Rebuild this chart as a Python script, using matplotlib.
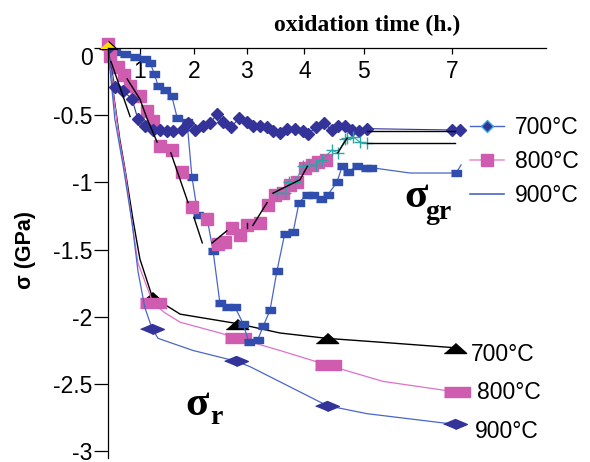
import numpy as np
import matplotlib
matplotlib.use("Agg")
import matplotlib.pyplot as plt
import matplotlib.transforms as mtransforms
from matplotlib.lines import Line2D

plt.rcParams['font.family'] = ['Liberation Sans', 'DejaVu Sans']
plt.rcParams['axes.unicode_minus'] = False

# x in chart units (tick labels below are the hours printed on the axis)
tick_pos = [0.65, 1.75, 2.83, 4.0, 5.21, 7.0]
tick_lab = ['1', '2', '3', '4', '5', '7']

# sigma_gr series
gr700_x = [0, 0.14, 0.31, 0.49, 0.61, 0.75, 0.92, 1.06, 1.20, 1.32, 1.51, 1.63, 1.77, 1.93, 2.08,
           2.22, 2.34, 2.51, 2.67, 2.83, 2.95, 3.10, 3.24, 3.36, 3.50, 3.65, 3.81, 3.97, 4.07,
           4.24, 4.40, 4.56, 4.68, 4.83, 4.97, 5.11, 5.28, 7.0, 7.17]
gr700_y = [0, -0.29, -0.32, -0.38, -0.53, -0.58, -0.61, -0.61, -0.62, -0.62, -0.61, -0.56, -0.61,
           -0.58, -0.56, -0.49, -0.55, -0.59, -0.52, -0.55, -0.58, -0.58, -0.59, -0.62, -0.63,
           -0.60, -0.60, -0.62, -0.64, -0.59, -0.56, -0.61, -0.58, -0.58, -0.61, -0.62, -0.60,
           -0.61, -0.61]

gr800_x = [0, 0.04, 0.20, 0.33, 0.45, 0.65, 0.79, 0.92, 1.06, 1.30, 1.51, 1.71, 2.02, 2.24,
           2.38, 2.53, 2.69, 2.83, 3.10, 3.26, 3.40, 3.56, 3.71, 3.85, 4.01, 4.15, 4.28, 4.44]
gr800_y = [0.03, -0.06, -0.14, -0.20, -0.28, -0.36, -0.47, -0.54, -0.73, -0.76, -0.92, -1.18,
           -1.27, -1.46, -1.44, -1.34, -1.39, -1.32, -1.30, -1.17, -1.09, -1.08, -1.02, -1.00,
           -0.89, -0.87, -0.85, -0.83]

gr900_x = [0, 0.14, 0.35, 0.55, 0.75, 0.86, 0.94, 1.02, 1.16, 1.30, 1.41, 1.61, 1.71, 1.83,
           2.02, 2.14, 2.28, 2.42, 2.59, 2.75, 2.87, 3.05, 3.16, 3.30, 3.44, 3.60, 3.77, 3.89,
           4.05, 4.18, 4.34, 4.48, 4.66, 4.77, 4.89, 5.07, 5.25, 5.36, 6.15, 7.09, 7.19]
gr900_y = [0, -0.03, -0.045, -0.07, -0.08, -0.11, -0.19, -0.28, -0.31, -0.36, -0.52, -0.55,
           -0.96, -1.24, -1.27, -1.51, -1.90, -1.93, -1.93, -2.05, -2.19, -2.17, -2.07, -1.95,
           -1.66, -1.38, -1.37, -1.15, -1.09, -1.09, -1.12, -1.09, -1.00, -0.88, -0.92, -0.88,
           -0.89, -0.89, -0.93, -0.93, -0.87]
gr900_marks = [i for i in range(1, 40) if i != 38]

teal_x = [3.44, 3.60, 3.69, 3.81, 3.97, 4.09, 4.24, 4.36, 4.56, 4.68, 4.83, 4.87, 4.99, 5.13, 5.28]
teal_y = [-1.08, -1.08, -1.00, -1.00, -0.88, -0.87, -0.87, -0.83, -0.76, -0.78, -0.68, -0.67,
          -0.66, -0.70, -0.71]

# black fit segments
segments = [
    ([0.06, 0.45], [-0.10, -0.51]),
    ([0.39, 0.65, 0.79, 1.00], [-0.23, -0.38, -0.52, -0.70]),
    ([1.28, 1.63], [-0.78, -1.15]),
    ([1.75, 1.92], [-1.26, -1.45]),
    ([2.12, 2.42], [-1.45, -1.36]),
    ([2.83, 2.83], [-1.30, -1.34]),
    ([2.95, 3.24], [-1.32, -1.15]),
    ([3.36, 3.91, 4.06], [-1.08, -0.98, -0.88]),
    ([4.68, 4.87], [-0.78, -0.67]),
    ([5.28, 7.07], [-0.62, -0.62]),
    ([5.28, 7.07], [-0.71, -0.71]),
]

# sigma_r series
r700_x = [0, 0.10, 0.24, 0.35, 0.51, 0.65, 0.90, 1.47, 2.63, 3.50, 4.46, 5.60, 7.07]
r700_y = [0, -0.31, -0.68, -0.91, -1.28, -1.57, -1.85, -1.98, -2.05, -2.12, -2.16, -2.19, -2.23]
r800_x = [0, 0.10, 0.24, 0.35, 0.49, 0.61, 0.92, 1.16, 1.47, 2.28, 2.65, 3.50, 4.48, 5.60, 7.11]
r800_y = [0, -0.32, -0.70, -0.92, -1.30, -1.60, -1.90, -1.97, -2.04, -2.12, -2.16, -2.25,
          -2.36, -2.48, -2.56]
r900_x = [0, 0.06, 0.14, 0.31, 0.49, 0.61, 0.75, 0.90, 1.02, 1.73, 2.61, 2.89, 4.46, 5.27, 7.07]
r900_y = [0, -0.23, -0.53, -0.88, -1.30, -1.66, -1.93, -2.09, -2.16, -2.25, -2.33, -2.37,
          -2.66, -2.72, -2.80]

labels = ['700°C', '800°C', '900°C']

blue_d = '#333399'
blue_s = '#2f4ead'
blue_l = '#4a66c8'
pink = '#d05cb0'
pink_l = '#e070c8'
teal = '#2aa5a5'

tri = [(-1, -0.45), (1, -0.45), (0, 0.45)]
rect = [(-1, -0.4), (1, -0.4), (1, 0.4), (-1, 0.4)]
diam = [(-1, 0), (0, 0.42), (1, 0), (0, -0.42)]
small_rect = [(-1, -0.7), (1, -0.7), (1, 0.7), (-1, 0.7)]

fig = plt.figure(figsize=(5.9, 4.62), dpi=100)
ax = fig.add_axes([108 / 590, 1 - 458 / 462, (546 - 108) / 590, (458 - 48) / 462])

# sigma_r
ax.plot(r700_x, r700_y, color='black', lw=1.0, marker=tri, ms=16, markevery=[6, 8, 10, 12],
        mfc='black', mec='black')
ax.plot(r800_x, r800_y, color=pink_l, lw=0.9, marker=rect, ms=19, markevery=[6, 10, 12, 14],
        mfc=pink, mec=pink)
ax.plot(r900_x, r900_y, color=blue_l, lw=0.9, marker=diam, ms=17, markevery=[7, 10, 12, 14],
        mfc=blue_d, mec=blue_d)

# sigma_gr
ax.plot(gr900_x, gr900_y, color=blue_l, lw=0.9, marker=small_rect, ms=7,
        markevery=gr900_marks, mfc=blue_s, mec=blue_s)
ax.plot(gr800_x, gr800_y, ls='none', marker='s', ms=8, mfc=pink, mec=pink, clip_on=False)
ax.plot(gr700_x, gr700_y, color=blue_d, lw=0.8, marker='D', ms=6, mfc=blue_d, mec=blue_d)
ax.plot(teal_x, teal_y, color=teal, lw=0.8, marker='+', ms=8, mew=1.0)
for sx, sy in segments:
    ax.plot(sx, sy, color='black', lw=1.0)
ax.plot([0], [0.02], marker=tri, ms=13, mfc='#ffe000', mec='black', mew=0.8, clip_on=False)

ax.set_xlim(0, 8.92)
ax.set_ylim(-3.05, 0)
ax.set_yticks([0, -0.5, -1, -1.5, -2, -2.5, -3])
ax.set_yticklabels(['0', '-0.5', '-1', '-1.5', '-2', '-2.5', '-3'])
ax.xaxis.tick_top()
ax.set_xticks(tick_pos)
ax.set_xticklabels(tick_lab)
ax.tick_params(axis='x', direction='in', length=4.5, width=0.9, pad=-25, labelsize=16.5)
ax.tick_params(axis='y', direction='out', length=10, width=0.9, pad=1, labelsize=16.5)
for s in ['right', 'bottom']:
    ax.spines[s].set_visible(False)
for s in ['left', 'top']:
    ax.spines[s].set_linewidth(0.9)
# the "0" label sits a little below its tick in the reference
zero_lab = ax.get_yticklabels()[0]
zero_lab.set_transform(zero_lab.get_transform() +
                       mtransforms.ScaledTranslation(0, -8 / 100, fig.dpi_scale_trans))

# right-hand labels for sigma_r
for lab, yy, xx in zip(labels, [-2.28, -2.56, -2.85], [7.39, 7.52, 7.47]):
    ax.text(xx, yy, lab, ha='left', va='center', fontsize=16.5, clip_on=False)

serif = ['Liberation Serif', 'DejaVu Serif']
ax.text(6.03, -1.18, 'σ', family=serif, weight='bold', fontsize=31, ha='left', va='baseline')
ax.text(6.47, -1.27, 'gr', family=serif, weight='bold', fontsize=20, ha='left', va='baseline')
ax.text(1.57, -2.73, 'σ', family=serif, weight='bold', fontsize=31, ha='left', va='baseline')
ax.text(2.08, -2.80, 'r', family=serif, weight='bold', fontsize=20, ha='left', va='baseline')

handles = [
    Line2D([], [], color=blue_l, lw=1.0, marker='D', ms=6, mfc=blue_d, mec='#33aadd'),
    Line2D([], [], color='#e89ad6', lw=1.2, marker='s', ms=9, mfc=pink, mec=pink),
    Line2D([], [], color=blue_l, lw=1.2),
]
fig.legend(handles, labels, loc='upper left', bbox_to_anchor=(470 / 590, 1 - 116 / 462),
           frameon=False, fontsize=16.5, handlelength=1.5, handletextpad=0.45,
           labelspacing=0.48, borderpad=0, borderaxespad=0)

fig.text(367 / 590, 1 - 25 / 462, 'oxidation time (h.)', family=serif, weight='bold',
         fontsize=17, ha='center', va='center')
fig.text(25 / 590, 1 - 250 / 462, 'σ (GPa)', weight='bold', fontsize=15.5, rotation=90,
         ha='center', va='center')

fig.savefig('out.png', dpi=100)
